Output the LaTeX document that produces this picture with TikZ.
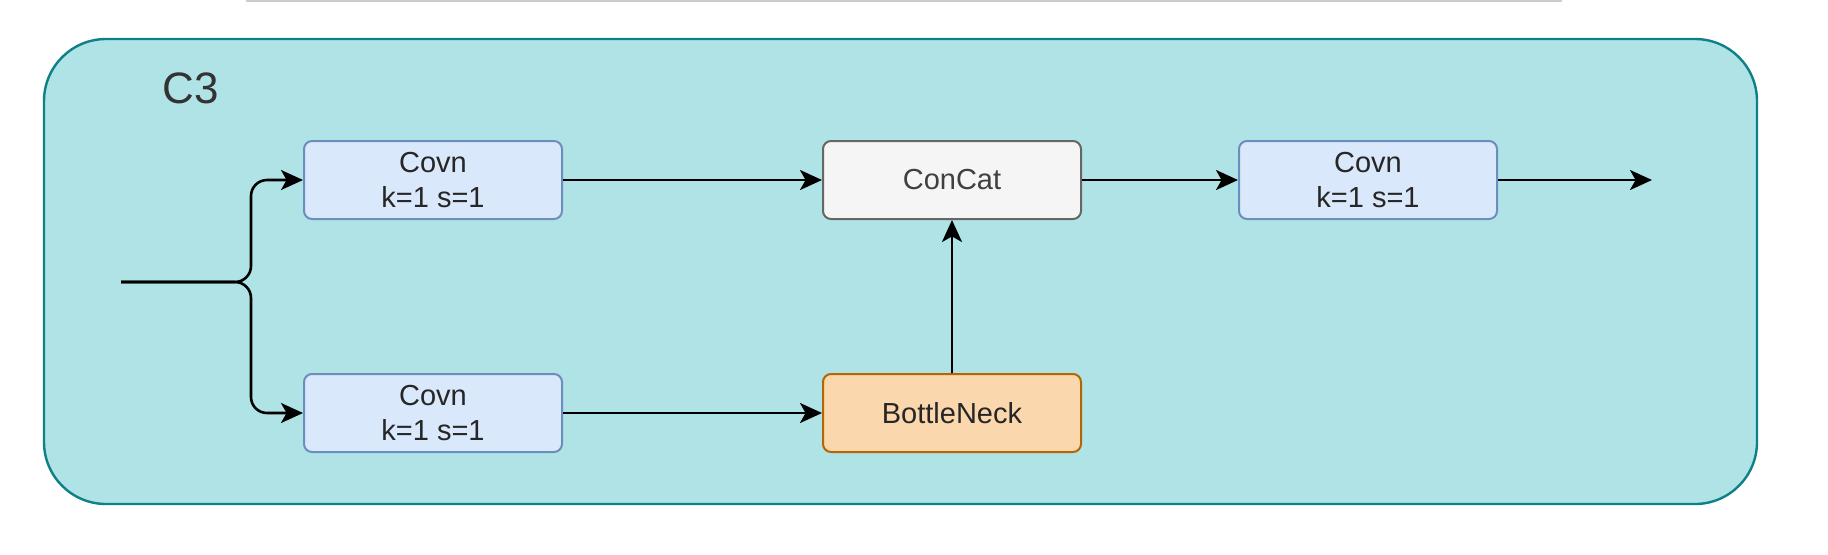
\documentclass[tikz,border=0pt]{standalone}
\usepackage{fontspec}
\setmainfont{Liberation Sans}
\usetikzlibrary{arrows.meta}
\definecolor{tealfill}{HTML}{B0E3E6}
\definecolor{tealline}{HTML}{0E8088}
\definecolor{bluefill}{HTML}{DAE8FC}
\definecolor{blueline}{HTML}{6C8EBF}
\definecolor{greyfill}{HTML}{F5F5F5}
\definecolor{greyline}{HTML}{666666}
\definecolor{orangefill}{HTML}{FAD7AC}
\definecolor{orangeline}{HTML}{B46504}
\tikzset{
	blk/.style={rounded corners=4pt,line width=1pt,minimum width=129pt,minimum height=39pt,align=center,
		font=\fontsize{14.5}{17.5}\selectfont,text=black!85},
	covn/.style={blk,draw=blueline,fill=bluefill},
	arr/.style={line width=1.3pt,-{Stealth[length=11pt,width=10pt,inset=2.8pt]}}
}
\begin{document}
			\begin{tikzpicture}[x=0.5pt,y=-0.5pt]%C3
			\useasboundingbox (0,0) rectangle (1828,554);
			\draw[line width=1pt,black!20] (246,1)--(1562,1);
			\draw[rounded corners=31pt,line width=1.2pt,draw=tealline,fill=tealfill] (44,39) rectangle (1757,504);
			\node[font=\fontsize{22}{26}\selectfont,text=black!80] (title) at (191,88) {C3};
			% blocks
			\node[covn] (covna) at (433,180) {Covn\\k=1 s=1};
			\node[covn] (covnb) at (433,413) {Covn\\k=1 s=1};
			\node[blk,draw=greyline,fill=greyfill,text=black!75] (concat) at (952,180) {ConCat};
			\node[blk,draw=orangeline,fill=orangefill] (neck) at (952,413) {BottleNeck};
			\node[covn] (covnc) at (1368,180) {Covn\\k=1 s=1};
			\coordinate (in) at (121,282);
			\coordinate (split) at (251,282);
			\coordinate (out) at (1652,180);
			% connectors
			\draw[arr,rounded corners=8pt] (in)--(split)|-(covna.west);
			\draw[arr,rounded corners=8pt] (in)--(split)|-(covnb.west);
			\draw[arr] (covna)--(concat);
			\draw[arr] (covnb)--(neck);
			\draw[arr] (neck)--(concat);
			\draw[arr] (concat)--(covnc);
			\draw[arr] (covnc)--(out);
			\end{tikzpicture}
\end{document}
